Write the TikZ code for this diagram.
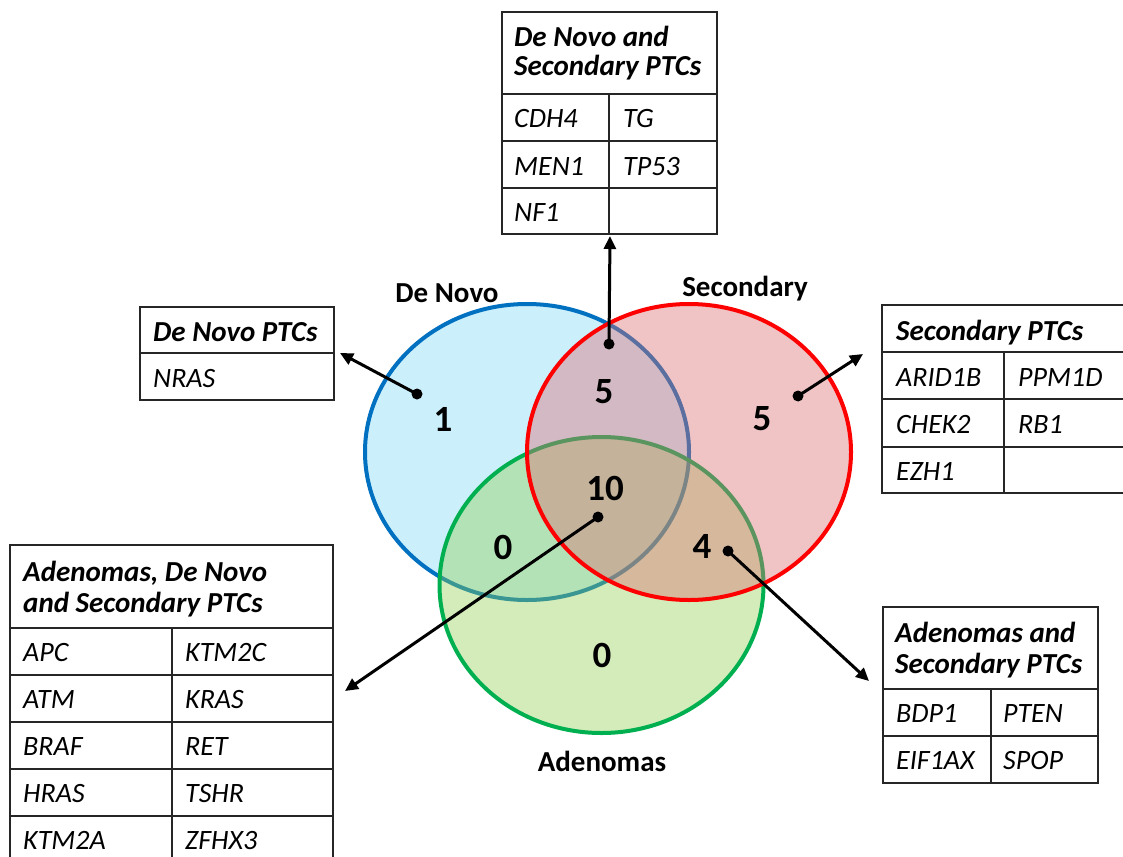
\documentclass[tikz,border=0pt]{standalone}
\usepackage{fontspec}
\setmainfont{Carlito}
\usetikzlibrary{arrows.meta}

\definecolor{dnblue}{HTML}{0070C0}
\definecolor{dnfill}{HTML}{00B0F0}
\definecolor{scred}{HTML}{FF0000}
\definecolor{scfill}{RGB}{220,110,115}
\definecolor{adgreen}{HTML}{00B050}
\definecolor{adfill}{HTML}{92D050}
\definecolor{gridgray}{HTML}{262626}

\tikzset{
  tablebox/.style={draw=gridgray, line width=1.4pt, rectangle, anchor=north west, inner sep=0pt, outer sep=0pt},
  grid/.style={draw=gridgray, line width=1.4pt},
  hdr/.style={anchor=base west, inner sep=0pt, font=\fontsize{29}{32}\selectfont\bfseries\itshape},
  cell/.style={anchor=base west, inner sep=0pt, font=\fontsize{28}{32}\selectfont\itshape},
  setlabel/.style={anchor=base, inner sep=0pt, font=\fontsize{29}{32}\selectfont\bfseries},
  count/.style={anchor=center, inner sep=0pt, font=\fontsize{37}{40}\selectfont\bfseries},
  pin/.style={circle, fill=black, inner sep=0pt, minimum size=11pt},
  callout/.style={line width=3pt, draw=black, -{Triangle[length=13pt,width=12pt]}},
  setring/.style={line width=4pt},
}

\begin{document}
\begin{tikzpicture}[x=1pt, y=-1pt]
  \fill[white] (0,0) rectangle (1123,856);
  \useasboundingbox (0,0) rectangle (1123,856);

  % --- three overlapping sets ---
  \draw[setring, draw=dnblue, fill=dnfill, fill opacity=0.2]
    (527,452) ellipse [x radius=162, y radius=148];
  \draw[setring, draw=adgreen, fill=adfill, fill opacity=0.4]
    (601.5,585) ellipse [x radius=162, y radius=148];
  \draw[setring, draw=scred, fill=scfill, fill opacity=0.41]
    (689,452) ellipse [x radius=162, y radius=148];

  % set names
  \node[setlabel] (lblDN) at (447,302) {De Novo};
  \node[setlabel] (lblSC) at (745,296) {Secondary};
  \node[setlabel] (lblAD) at (602,771) {Adenomas};

  % region counts
  \node[count] (nDN)  at (443,419) {1};
  \node[count] (nDS)  at (604,392) {5};
  \node[count] (nSC)  at (762,419) {5};
  \node[count] (nALL) at (605,488) {10};
  \node[count] (nDA)  at (503,547) {0};
  \node[count] (nSA)  at (702,546) {4};
  \node[count] (nAD)  at (602,655) {0};

  % --- table: De Novo and Secondary PTCs ---
  \node[tablebox, minimum width=215pt, minimum height=222pt] (tDS) at (502,12) {};
  \draw[grid] (502,94) -- (717,94);
  \draw[grid] (502,141) -- (717,141);
  \draw[grid] (502,188) -- (717,188);
  \draw[grid] (609,94) -- (609,234);
  \node[hdr] (tDSh1) at (514,47) {De Novo and};
  \node[hdr] (tDSh2) at (514,76) {Secondary PTCs};
  \node[cell] (g1) at (514,128) {CDH4};
  \node[cell] (g2) at (623,128) {TG};
  \node[cell] (g3) at (514,175) {MEN1};
  \node[cell] (g4) at (623,175) {TP53};
  \node[cell] (g5) at (514,221) {NF1};

  % --- table: De Novo PTCs ---
  \node[tablebox, minimum width=194pt, minimum height=93pt] (tDN) at (140,307) {};
  \draw[grid] (140,353) -- (334,353);
  \node[hdr] (tDNh) at (153,341) {De Novo PTCs};
  \node[cell] (g6) at (153,387) {NRAS};

  % --- table: Secondary PTCs ---
  \node[tablebox, minimum width=242pt, minimum height=188pt] (tSC) at (882,305) {};
  \draw[grid] (882,352) -- (1124,352);
  \draw[grid] (882,399) -- (1124,399);
  \draw[grid] (882,447) -- (1124,447);
  \draw[grid] (1004,352) -- (1004,493);
  \node[hdr] (tSCh) at (896,340) {Secondary PTCs};
  \node[cell] (g7)  at (896,386) {ARID1B};
  \node[cell] (g8)  at (1018,386) {PPM1D};
  \node[cell] (g9)  at (896,433) {CHEK2};
  \node[cell] (g10) at (1018,433) {RB1};
  \node[cell] (g11) at (896,480) {EZH1};

  % --- table: Adenomas, De Novo and Secondary PTCs ---
  \node[tablebox, minimum width=323pt, minimum height=320pt] (tALL) at (10,545) {};
  \draw[grid] (10,628) -- (333,628);
  \draw[grid] (10,675) -- (333,675);
  \draw[grid] (10,722) -- (333,722);
  \draw[grid] (10,769) -- (333,769);
  \draw[grid] (10,816) -- (333,816);
  \draw[grid] (172,628) -- (172,865);
  \node[hdr] (tALLh1) at (23,581) {Adenomas, De Novo};
  \node[hdr] (tALLh2) at (23,612) {and Secondary PTCs};
  \node[cell] (g12) at (23,661)  {APC};
  \node[cell] (g13) at (185,661) {KTM2C};
  \node[cell] (g14) at (23,708)  {ATM};
  \node[cell] (g15) at (185,708) {KRAS};
  \node[cell] (g16) at (23,755)  {BRAF};
  \node[cell] (g17) at (185,755) {RET};
  \node[cell] (g18) at (23,802)  {HRAS};
  \node[cell] (g19) at (185,802) {TSHR};
  \node[cell] (g20) at (23,849)  {KTM2A};
  \node[cell] (g21) at (185,849) {ZFHX3};

  % --- table: Adenomas and Secondary PTCs ---
  \node[tablebox, minimum width=215pt, minimum height=176pt] (tSA) at (883,607) {};
  \draw[grid] (883,689) -- (1098,689);
  \draw[grid] (883,736) -- (1098,736);
  \draw[grid] (991,689) -- (991,783);
  \node[hdr] (tSAh1) at (895,642) {Adenomas and};
  \node[hdr] (tSAh2) at (895,673) {Secondary PTCs};
  \node[cell] (g22) at (896,722)  {BDP1};
  \node[cell] (g23) at (1003,722) {PTEN};
  \node[cell] (g24) at (896,769)  {EIF1AX};
  \node[cell] (g25) at (1003,769) {SPOP};

  % --- callouts from regions to their tables ---
  \node[pin] (pDS)  at (609,344) {};
  \node[pin] (pDN)  at (417,394) {};
  \node[pin] (pSC)  at (798,396) {};
  \node[pin] (pALL) at (598,517) {};
  \node[pin] (pSA)  at (728,551) {};
  \coordinate (qDS)  at (610,236);
  \coordinate (qDN)  at (340,353);
  \coordinate (qSC)  at (863,354);
  \coordinate (qALL) at (345,691);
  \coordinate (qSA)  at (869,681);
  \draw[callout] (pDS.center)  -- (qDS);
  \draw[callout] (pDN.center)  -- (qDN);
  \draw[callout] (pSC.center)  -- (qSC);
  \draw[callout] (pALL.center) -- (qALL);
  \draw[callout] (pSA.center)  -- (qSA);
\end{tikzpicture}
\end{document}
